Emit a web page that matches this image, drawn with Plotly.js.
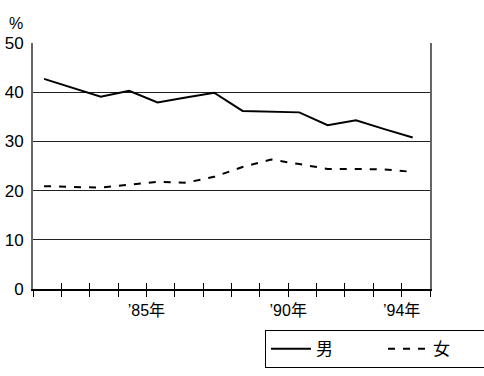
<!DOCTYPE html>
<html><head><meta charset="utf-8">
<script src="https://cdn.plot.ly/plotly-3.0.1.min.js"></script>
<style>html,body{margin:0;padding:0;background:#fff}</style>
</head><body>
<div id="chart" style="width:484px;height:376px"></div>
<script>
const years = [1981,1982,1983,1984,1985,1986,1987,1988,1989,1990,1991,1992,1993,1994];
const male = [42.7,40.9,39.1,40.3,37.9,38.9,39.9,36.2,36.0,35.9,33.3,34.3,32.5,30.8];
const female = [20.9,20.7,20.6,21.2,21.8,21.6,22.8,24.8,26.3,25.4,24.4,24.4,24.3,23.8];
const seriesNames = ['男','女'];
const tickLabels = {1985:"’85年",1990:"’90年",1994:"’94年"};
const yTicks = [0,10,20,30,40,50];

const off = 0.39;
const tickvals = [], ticktext = [];
for (let y = years[0]; y <= years[years.length-1] + 1; y++) {
  tickvals.push(y - off);
  ticktext.push(tickLabels[y] || '');
}
const font = 'Liberation Sans, Arial, Noto Sans CJK JP, sans-serif';
const traces = [
  {x: years, y: male, name: seriesNames[0], mode: 'lines', line: {color: '#000', width: 2}},
  {x: years, y: female, name: seriesNames[1], mode: 'lines', line: {color: '#000', width: 2, dash: '7px,8px'}}
];
const xr = [years[0] - off, years[years.length-1] + 1 - off];
const layout = {
  width: 484, height: 376,
  margin: {l: 33, r: 54, t: 43, b: 87},
  paper_bgcolor: '#fff', plot_bgcolor: '#fff',
  font: {family: font, color: '#000', size: 16},
  showlegend: true,
  xaxis: {
    range: xr,
    tickmode: 'array', tickvals: tickvals, ticktext: ticktext,
    ticks: 'outside', ticklen: 6, tickcolor: '#000', tickwidth: 1,
    showgrid: false, zeroline: false,
    showline: true, linecolor: '#000', linewidth: 1.5, mirror: false,
    tickfont: {size: 16, family: font}
  },
  xaxis2: {
    overlaying: 'x', anchor: 'y',
    range: xr,
    tickmode: 'array', tickvals: tickvals, ticktext: tickvals.map(() => ''),
    ticks: 'inside', ticklen: 6, tickcolor: '#000', tickwidth: 1,
    showgrid: false, zeroline: false, showline: false, side: 'bottom'
  },
  yaxis: {
    range: [0, 50], tickmode: 'array', tickvals: yTicks,
    showgrid: true, gridcolor: '#222', gridwidth: 1,
    zeroline: false, showline: true, linecolor: '#666', linewidth: 2, mirror: true,
    ticks: '', ticklabelstandoff: 4,
    tickfont: {size: 17, family: font}
  },
  legend: {
    orientation: 'h', xref: 'container', yref: 'container',
    x: 0.5475, xanchor: 'left', y: 0.122, yanchor: 'top',
    bordercolor: '#000', borderwidth: 1, bgcolor: '#fff',
    font: {size: 17, family: font}, entrywidth: 62, itemwidth: 40
  },
  annotations: [{
    text: '%', xref: 'paper', yref: 'paper', x: -0.042, y: 1.08,
    xanchor: 'center', yanchor: 'middle', showarrow: false,
    font: {size: 16, family: font}
  }]
};
traces.push({x: [years[0]], y: [null], xaxis: 'x2', showlegend: false, hoverinfo: 'skip', mode: 'lines'});
Plotly.newPlot('chart', traces, layout, {staticPlot: true, displayModeBar: false});
</script>
</body></html>
